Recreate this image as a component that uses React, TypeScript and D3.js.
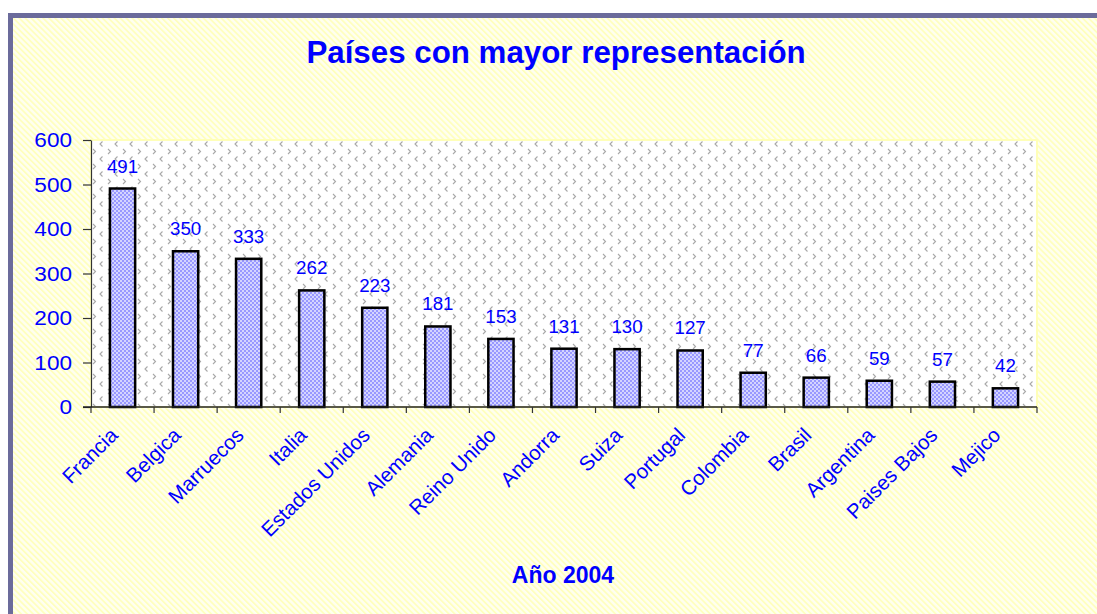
import React, { useEffect, useRef } from 'react';
import * as d3 from 'd3';

const countries = [
  'Francia', 'Belgica', 'Marruecos', 'Italia', 'Estados Unidos', 'Alemania',
  'Reino Unido', 'Andorra', 'Suiza', 'Portugal', 'Colombia', 'Brasil',
  'Argentina', 'Paises Bajos', 'Mejico',
];
const counts = [491, 350, 333, 262, 223, 181, 153, 131, 130, 127, 77, 66, 59, 57, 42];
const yTicks = [0, 100, 200, 300, 400, 500, 600];

const title = 'Países con mayor representación';
const xTitle = 'Año 2004';

const W = 1097;
const H = 614;

const App: React.FC = () => {
  const svgRef = useRef<SVGSVGElement>(null);

  useEffect(() => {
    document.body.style.margin = '0';
    if (!svgRef.current) return;
    const svg = d3.select(svgRef.current);
    svg.selectAll('*').remove();

    const plot = { left: 91, right: 1037, top: 140, bottom: 407 };
    const blue = '#0000ff';
    const font = '"Liberation Sans", Arial, sans-serif';

    const defs = svg.append('defs');

    // outer diagonal stripes
    const stripes = defs.append('pattern')
      .attr('id', 'stripes')
      .attr('patternUnits', 'userSpaceOnUse')
      .attr('width', 4.2)
      .attr('height', 4.2)
      .attr('patternTransform', 'rotate(-45)');
    stripes.append('rect').attr('width', 4.2).attr('height', 4.2).attr('fill', '#fffff0');
    stripes.append('rect').attr('width', 1.8).attr('height', 4.2).attr('fill', '#ffffbe');

    // plot area chevrons
    const chev = defs.append('pattern')
      .attr('id', 'chev')
      .attr('patternUnits', 'userSpaceOnUse')
      .attr('x', plot.left)
      .attr('y', plot.top)
      .attr('width', 15)
      .attr('height', 15);
    chev.append('rect').attr('width', 15).attr('height', 15).attr('fill', '#ffffff');
    chev.append('path')
      .attr('d', 'M11.5,1.5 L9,4 L11.5,6.5')
      .attr('fill', 'none').attr('stroke', '#a8a8a8').attr('stroke-width', 1.1);
    chev.append('path')
      .attr('d', 'M2,9 L4.5,11.5 L2,14')
      .attr('fill', 'none').attr('stroke', '#a8a8a8').attr('stroke-width', 1.1);

    // bar checker
    const check = defs.append('pattern')
      .attr('id', 'check')
      .attr('patternUnits', 'userSpaceOnUse')
      .attr('width', 4)
      .attr('height', 4);
    check.append('rect').attr('width', 4).attr('height', 4).attr('fill', '#9898ff');
    check.append('rect').attr('x', 0).attr('y', 0).attr('width', 2).attr('height', 2).attr('fill', '#d4d4ff');
    check.append('rect').attr('x', 2).attr('y', 2).attr('width', 2).attr('height', 2).attr('fill', '#d4d4ff');

    // background + frame
    svg.append('rect').attr('width', W).attr('height', H).attr('fill', '#ffffff');
    svg.append('rect')
      .attr('x', 10.5).attr('y', 15.5)
      .attr('width', W + 20).attr('height', H + 20)
      .attr('fill', 'url(#stripes)')
      .attr('stroke', '#6b6b9b')
      .attr('stroke-width', 5);

    // plot area
    svg.append('rect')
      .attr('x', plot.left).attr('y', plot.top)
      .attr('width', plot.right - plot.left).attr('height', plot.bottom - plot.top)
      .attr('fill', 'url(#chev)')
      .attr('stroke', '#ffffb8')
      .attr('stroke-width', 2);

    const x = d3.scaleBand<string>().domain(countries).range([plot.left, plot.right]).padding(0);
    const y = d3.scaleLinear().domain([0, 600]).range([plot.bottom, plot.top]);
    const bw = x.bandwidth() * 0.4;

    // bars
    svg.append('g')
      .selectAll('rect')
      .data(countries)
      .join('rect')
      .attr('x', d => x(d)! + (x.bandwidth() - bw) / 2)
      .attr('y', (d, i) => y(counts[i]))
      .attr('width', bw)
      .attr('height', (d, i) => y(0) - y(counts[i]))
      .attr('fill', 'url(#check)')
      .attr('stroke', '#000')
      .attr('stroke-width', 2.5);

    // value labels
    svg.append('g')
      .selectAll('text')
      .data(countries)
      .join('text')
      .attr('transform', (d, i) => `translate(${x(d)! + x.bandwidth() / 2},${y(counts[i]) - 16}) scale(1.04,1)`)
      .attr('text-anchor', 'middle')
      .attr('font-family', font)
      .attr('font-size', 18)
      .attr('fill', blue)
      .text((d, i) => counts[i]);

    // y axis
    const yAxis = svg.append('g')
      .attr('transform', `translate(${plot.left},0)`)
      .call(d3.axisLeft(y).tickValues(yTicks).tickSize(8).tickSizeOuter(0).tickFormat(d3.format('d')));
    yAxis.select('.domain').attr('stroke', '#333').attr('stroke-width', 1.2);
    yAxis.selectAll('.tick line').attr('stroke', '#333').attr('stroke-width', 1.2);
    yAxis.selectAll('.tick text')
      .attr('x', 0)
      .attr('dy', null)
      .attr('dominant-baseline', 'central')
      .attr('transform', 'translate(-19,0) scale(1.14,1)')
      .attr('font-family', font)
      .attr('font-size', 19.8)
      .attr('fill', blue);

    // x axis
    const boundaries = countries.map(d => x(d)!).concat([plot.right]);
    const xg = svg.append('g');
    xg.append('line')
      .attr('x1', plot.left - 8).attr('x2', plot.right)
      .attr('y1', plot.bottom).attr('y2', plot.bottom)
      .attr('stroke', '#222').attr('stroke-width', 1.5);
    xg.selectAll('line.tk')
      .data(boundaries)
      .join('line')
      .attr('class', 'tk')
      .attr('x1', d => d).attr('x2', d => d)
      .attr('y1', plot.bottom).attr('y2', plot.bottom + 6)
      .attr('stroke', '#333').attr('stroke-width', 1.2);

    xg.selectAll('text')
      .data(countries)
      .join('text')
      .attr('transform', d => `translate(${x(d)! + x.bandwidth() / 2 - 14},${plot.bottom + 19}) rotate(-45)`)
      .attr('text-anchor', 'end')
      .attr('dy', '0.72em')
      .attr('font-family', font)
      .attr('font-size', 20.5)
      .attr('fill', blue)
      .text(d => d);

    // titles
    svg.append('text')
      .attr('x', 556).attr('y', 63)
      .attr('text-anchor', 'middle')
      .attr('font-family', font)
      .attr('font-weight', 'bold')
      .attr('font-size', 31.3)
      .attr('fill', blue)
      .text(title);

    svg.append('text')
      .attr('x', 563).attr('y', 583)
      .attr('text-anchor', 'middle')
      .attr('font-family', font)
      .attr('font-weight', 'bold')
      .attr('font-size', 23)
      .attr('fill', blue)
      .text(xTitle);
  }, []);

  return <svg ref={svgRef} width={W} height={H} style={{ display: 'block' }} />;
};

export default App;
